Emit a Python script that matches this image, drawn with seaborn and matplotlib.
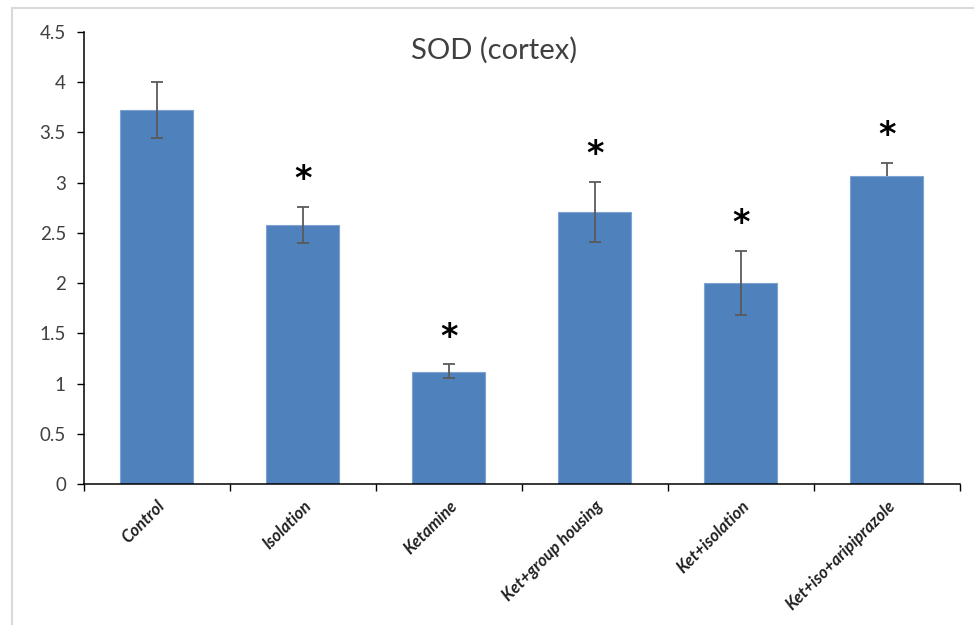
import matplotlib
matplotlib.use('Agg')
import matplotlib.pyplot as plt
import seaborn as sns
from matplotlib.lines import Line2D

# SOD (cortex) values
groups = ['Control', 'Isolation', 'Ketamine', 'Ket+group housing',
          'Ket+isolation', 'Ket+iso+aripiprazole']
means = [3.72, 2.58, 1.12, 2.71, 2.00, 3.07]
err_up = [0.28, 0.18, 0.07, 0.30, 0.32, 0.13]
err_down = [0.28, 0.18, 0.06, 0.30, 0.32, 0.0]
signif = ['', '*', '*', '*', '*', '*']

sns.set_style('white')
plt.rcParams['font.family'] = ['Lato', 'DejaVu Sans']

fig = plt.figure(figsize=(9.74, 6.25), dpi=100)
ax = fig.add_axes([0.0862, 0.2256, 0.8994, 0.7232])

sns.barplot(x=groups, y=means, color='#4F81BD', saturation=1, width=0.5,
            edgecolor='#7FA3D1', linewidth=0.8, ax=ax)

# error bars: stems plus caps, no lower cap where the lower error is zero
xs = list(range(len(groups)))
ax.errorbar(xs, means, yerr=[err_down, err_up], fmt='none',
            ecolor='#5a5a5a', elinewidth=1.3, capsize=0)
ax.plot(xs, [m + u for m, u in zip(means, err_up)], ls='none', marker='_',
        markersize=8, markeredgewidth=1.3, color='#5a5a5a')
low = [(i, m - d) for i, (m, d) in enumerate(zip(means, err_down)) if d > 0]
ax.plot([p[0] for p in low], [p[1] for p in low], ls='none', marker='_',
        markersize=8, markeredgewidth=1.3, color='#5a5a5a')

for i, s in enumerate(signif):
    if s:
        ax.text(i, means[i] + err_up[i] + 0.27, s, ha='center', va='center',
                fontsize=24, fontweight='bold', color='black',
                family='DejaVu Sans')

ax.set_xlim(-0.5, len(groups) - 0.5)
ax.set_ylim(0, 4.5)
ax.set_yticks([0, 0.5, 1, 1.5, 2, 2.5, 3, 3.5, 4, 4.5])
ax.set_yticklabels(['0', '0.5', '1', '1.5', '2', '2.5', '3', '3.5', '4', '4.5'],
                   fontsize=13.5, color='#404040')
ax.set_xticks(xs)
ax.set_xticklabels(groups, rotation=45, ha='right', rotation_mode='anchor',
                   fontsize=12, fontweight='bold', fontstyle='italic',
                   color='#202020')
ax.set_xticks([i - 0.5 for i in range(len(groups) + 1)], minor=True)
ax.tick_params(axis='x', which='major', length=0, pad=10)
ax.tick_params(axis='x', which='minor', length=5, width=1, color='black',
               direction='out', bottom=True)
ax.tick_params(axis='y', length=5, width=1, color='black', direction='out',
               left=True, pad=8)

for side in ['top', 'right']:
    ax.spines[side].set_visible(False)
for side in ['left', 'bottom']:
    ax.spines[side].set_color('black')
    ax.spines[side].set_linewidth(1.1)

ax.set_xlabel('')
ax.set_ylabel('')
ax.text(0.468, 0.96, 'SOD (cortex)', transform=ax.transAxes, ha='center',
        va='center', fontsize=21, color='#404040')

# light grey chart-area frame (top and left edges)
fig.add_artist(Line2D([12 / 974, 1], [1 - 8 / 625, 1 - 8 / 625],
                      transform=fig.transFigure, color='#d9d9d9', lw=1.5))
fig.add_artist(Line2D([12 / 974, 12 / 974], [0, 1 - 8 / 625],
                      transform=fig.transFigure, color='#d9d9d9', lw=1.5))

fig.savefig('out.png', dpi=100, facecolor='white')
